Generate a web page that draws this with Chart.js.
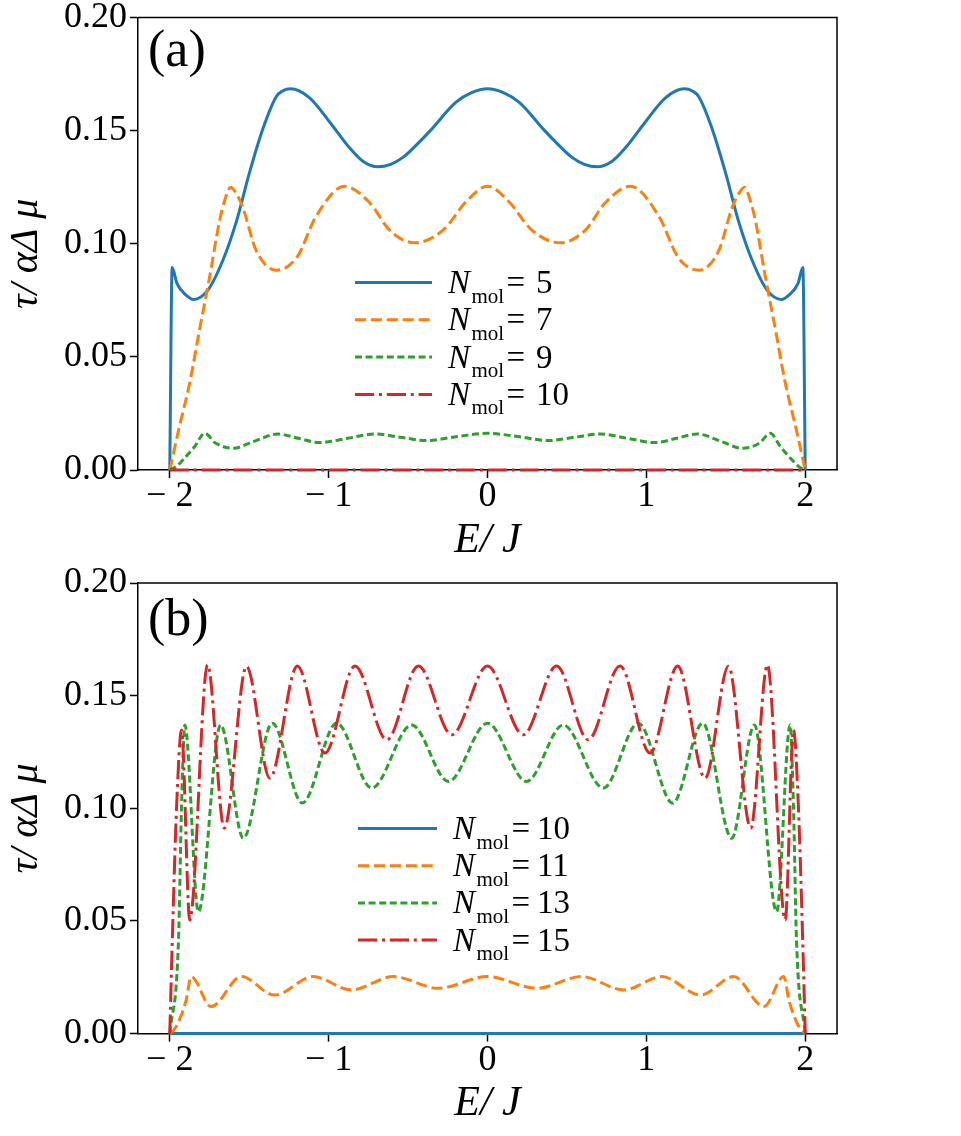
<!DOCTYPE html>
<html><head><meta charset="utf-8">
<script src="https://cdn.jsdelivr.net/npm/chart.js@4.4.0/dist/chart.umd.min.js"></script>
<style>
html,body{margin:0;padding:0;background:#fff;width:961px;height:1136px;overflow:hidden}
.panel{position:absolute;left:0;width:961px;height:568px}
#pa{top:0}#pb{top:568px}
</style></head><body>
<div class="panel" id="pa"><canvas id="ca" width="961" height="568"></canvas></div>
<div class="panel" id="pb"><canvas id="cb" width="961" height="568"></canvas></div>
<script>
// ---- tick definitions ----
const xTicks = [-2, -1, 0, 1, 2];
const xTickLabels = ['\u2212 2', '\u2212 1', '0', '1', '2'];
const yTicks = [0, 0.05, 0.10, 0.15, 0.20];
const yTickLabels = ['0.00', '0.05', '0.10', '0.15', '0.20'];

// ---- panel (a) ----
const aLegend = ['5', '7', '9', '10'];
const aN5E = [-2.0,-1.985,-1.955,-1.897,-1.85,-1.76,-1.665,-1.58,-1.50,-1.41,-1.33,-1.29,-1.24,-1.12,-0.99,-0.87,-0.78,-0.69,-0.61,-0.53,-0.45,-0.36,-0.20,-0.10,0,
  0.10,0.20,0.36,0.45,0.53,0.61,0.69,0.78,0.87,0.99,1.12,1.24,1.29,1.33,1.41,1.50,1.58,1.665,1.76,1.85,1.897,1.955,1.985,2.0];
const aN5T = [0,0.0895,0.0825,0.0773,0.0754,0.0795,0.0928,0.110,0.131,0.1516,0.165,0.1675,0.1685,0.1645,0.1535,0.1425,0.1362,0.134,0.1351,0.1383,0.1435,0.150,0.1625,0.1668,0.1685,
  0.1668,0.1625,0.150,0.1435,0.1383,0.1351,0.134,0.1362,0.1425,0.1535,0.1645,0.1685,0.1675,0.165,0.1516,0.131,0.110,0.0928,0.0795,0.0754,0.0773,0.0825,0.0895,0];
const aN7E = [-2.0,-1.94,-1.876,-1.81,-1.75,-1.687,-1.655,-1.617,-1.58,-1.54,-1.456,-1.33,-1.20,-1.08,-0.90,-0.74,-0.616,-0.458,-0.28,-0.13,0,
  0.13,0.28,0.458,0.616,0.74,0.90,1.08,1.20,1.33,1.456,1.54,1.58,1.617,1.655,1.687,1.75,1.81,1.876,1.94,2.0];
const aN7T = [0,0.019,0.038,0.063,0.085,0.110,0.119,0.125,0.122,0.116,0.097,0.0883,0.094,0.112,0.1254,0.118,0.106,0.1004,0.106,0.119,0.1254,
  0.119,0.106,0.1004,0.106,0.118,0.1254,0.112,0.094,0.0883,0.097,0.116,0.122,0.125,0.119,0.110,0.085,0.063,0.038,0.019,0];
const aN9E = [-2.0,-1.96,-1.918,-1.844,-1.78,-1.71,-1.60,-1.476,-1.32,-1.19,-1.057,-0.88,-0.71,-0.55,-0.384,-0.19,0,
  0.19,0.384,0.55,0.71,0.88,1.057,1.19,1.32,1.476,1.60,1.71,1.78,1.844,1.918,1.96,2.0];
const aN9T = [0,0.0015,0.0044,0.0103,0.0162,0.0118,0.0096,0.0125,0.0159,0.0140,0.0121,0.0140,0.0159,0.0145,0.0130,0.0148,0.0162,
  0.0148,0.0130,0.0145,0.0159,0.0140,0.0121,0.0140,0.0159,0.0125,0.0096,0.0118,0.0162,0.0103,0.0044,0.0015,0];
const aN10E = [-2.0,-1.5,-1.0,-0.5,0,0.5,1.0,1.5,2.0];
const aN10T = [0,0,0,0,0,0,0,0,0];

// ---- panel (b) ----
const bLegend = ['10', '11', '13', '15'];
const bN10E = [-2.0,-1.5,-1.0,-0.5,0,0.5,1.0,1.5,2.0];
const bN10T = [0,0,0,0,0,0,0,0,0];
const bN11E = [-2.0,-1.97,-1.94,-1.897,-1.865,-1.74,-1.55,-1.34,-1.098,-0.857,-0.594,-0.31,0,
  0.31,0.594,0.857,1.098,1.34,1.55,1.74,1.865,1.897,1.94,1.97,2.0];
const bN11T = [0,0.002,0.006,0.0149,0.0253,0.0120,0.0253,0.0171,0.0253,0.0194,0.0253,0.0201,0.0253,
  0.0201,0.0253,0.0194,0.0253,0.0171,0.0253,0.0120,0.0253,0.0149,0.006,0.002,0];
const bN13E = [-2.0,-1.945,-1.926,-1.905,-1.82,-1.68,-1.537,-1.355,-1.166,-0.95,-0.729,-0.477,-0.246,0,
  0.246,0.477,0.729,0.95,1.166,1.355,1.537,1.68,1.82,1.905,1.926,1.945,2.0];
const bN13T = [0,0.0416,0.1008,0.137,0.0541,0.137,0.0867,0.1378,0.1023,0.1378,0.109,0.137,0.1119,0.1378,
  0.1119,0.137,0.109,0.1378,0.1023,0.1378,0.0867,0.137,0.0541,0.137,0.1008,0.0416,0];
const bN15E = [-2.0,-1.984,-1.957,-1.926,-1.874,-1.762,-1.657,-1.517,-1.37,-1.197,-1.023,-0.834,-0.634,-0.435,-0.225,0,
  0.225,0.435,0.634,0.834,1.023,1.197,1.37,1.517,1.657,1.762,1.874,1.926,1.957,1.984,2.0];
const bN15T = [0,0.0416,0.1008,0.1348,0.0504,0.1637,0.0912,0.163,0.1134,0.1632,0.1245,0.1632,0.1304,0.1632,0.1326,0.1632,
  0.1326,0.1632,0.1304,0.1632,0.1245,0.1632,0.1134,0.163,0.0912,0.1637,0.0504,0.1348,0.1008,0.0416,0];

// ---- styling ----
const SERIF = '"Liberation Serif", "Times New Roman", serif';
const COLORS = ['#1f77b4', '#ff7f0e', '#2ca02c', '#d62728'];
const DASHES = [[], [11.1, 4.8], [7, 3.6], [19.2, 4.8, 3, 4.8]];

function makeSet(label, E, T, i) {
  return {
    label: label,
    data: E.map((e, k) => ({ x: e, y: T[k] })),
    borderColor: COLORS[i],
    backgroundColor: COLORS[i],
    borderWidth: 3,
    borderDash: DASHES[i],
    pointRadius: 0,
    fill: false,
    cubicInterpolationMode: 'monotone',
    clip: false,
    order: 3 - i
  };
}

const decoPlugin = {
  id: 'deco',
  afterDatasetsDraw(chart, args, o) {
    const ctx = chart.ctx, ca = chart.chartArea;
    ctx.save();
    ctx.setLineDash([]);
    ctx.strokeStyle = '#000';
    ctx.lineWidth = 1.5;
    ctx.beginPath();
    ctx.moveTo(ca.left, ca.top);
    ctx.lineTo(ca.right, ca.top);
    ctx.lineTo(ca.right, ca.bottom);
    ctx.stroke();
    ctx.fillStyle = '#000';
    ctx.textAlign = 'left';
    ctx.textBaseline = 'alphabetic';
    ctx.font = '52px ' + SERIF;
    ctx.fillText(o.panel, o.panelX, o.panelY);
    chart.data.datasets.forEach((d, i) => {
      const y = o.y0 + i * o.dy;
      ctx.strokeStyle = d.borderColor;
      ctx.lineWidth = d.borderWidth;
      ctx.setLineDash(d.borderDash || []);
      ctx.beginPath();
      ctx.moveTo(o.x0, y);
      ctx.lineTo(o.x1, y);
      ctx.stroke();
      ctx.setLineDash([]);
      ctx.fillStyle = '#000';
      ctx.font = 'italic 33px ' + SERIF;
      ctx.fillText('N', o.tx, y + 10.5);
      ctx.font = '21px ' + SERIF;
      ctx.fillText('mol', o.tx + 23.5, y + 20);
      ctx.font = '33px ' + SERIF;
      ctx.fillText('=', o.tx + 58.5, y + 10.5);
      ctx.fillText(o.labels[i], o.tx + o.numOff, y + 10.5);
    });
    ctx.restore();
  }
};

function makeChart(id, sets, deco, padTop, padBottom) {
  return new Chart(document.getElementById(id), {
    type: 'line',
    data: { datasets: sets },
    plugins: [decoPlugin],
    options: {
      responsive: false,
      animation: false,
      devicePixelRatio: 1,
      layout: { padding: { top: padTop, right: 124, left: 0, bottom: padBottom } },
      plugins: { legend: { display: false }, tooltip: { enabled: false }, deco: deco },
      scales: {
        x: {
          type: 'linear', min: -2.2, max: 2.2,
          afterBuildTicks: s => { s.ticks = xTicks.map(v => ({ value: v })); },
          afterFit: s => { s.height = 98; },
          ticks: {
            callback: (v, i) => xTickLabels[i],
            font: { family: SERIF, size: 36, lineHeight: 1 },
            color: '#000', padding: 1, maxRotation: 0, autoSkip: false
          },
          grid: { display: true, drawOnChartArea: false, drawTicks: true, tickLength: 8, tickWidth: 1.5, tickColor: '#000' },
          border: { display: true, color: '#000', width: 1.5 },
          title: {
            display: true, text: 'E/ J', color: '#000',
            font: { family: SERIF, size: 42, style: 'italic', lineHeight: 1.2 },
            padding: { top: 0, bottom: 2 }
          }
        },
        y: {
          type: 'linear', min: 0, max: 0.2,
          afterBuildTicks: s => { s.ticks = yTicks.map(v => ({ value: v })); },
          afterFit: s => { s.width = 138; },
          ticks: {
            callback: (v, i) => yTickLabels[i],
            font: { family: SERIF, size: 36, lineHeight: 0.6 },
            color: '#000', padding: 3
          },
          grid: { display: true, drawOnChartArea: false, drawTicks: true, tickLength: 8, tickWidth: 1.5, tickColor: '#000' },
          border: { display: true, color: '#000', width: 1.5 },
          title: {
            display: true, text: '\u03c4/ \u03b1\u0394 \u03bc  ', color: '#000',
            font: { family: SERIF, size: 40, style: 'italic', lineHeight: 1.2 },
            padding: { top: 2, bottom: 0 }
          }
        }
      }
    }
  });
}

makeChart('ca', [
  makeSet('N5', aN5E, aN5T, 0),
  makeSet('N7', aN7E, aN7T, 1),
  makeSet('N9', aN9E, aN9T, 2),
  makeSet('N10', aN10E, aN10T, 3)
], { panel: '(a)', panelX: 148, panelY: 66, labels: aLegend, x0: 355, x1: 432, tx: 448, numOff: 88, y0: 282.5, dy: 37.3 }, 17.5, 0);

makeChart('cb', [
  makeSet('N10', bN10E, bN10T, 0),
  makeSet('N11', bN11E, bN11T, 1),
  makeSet('N13', bN13E, bN13T, 2),
  makeSet('N15', bN15E, bN15T, 3)
], { panel: '(b)', panelX: 148, panelY: 67, labels: bLegend, x0: 358, x1: 437, tx: 453, numOff: 84, y0: 260.5, dy: 37.2 }, 15, 4.4);
</script>
</body></html>
